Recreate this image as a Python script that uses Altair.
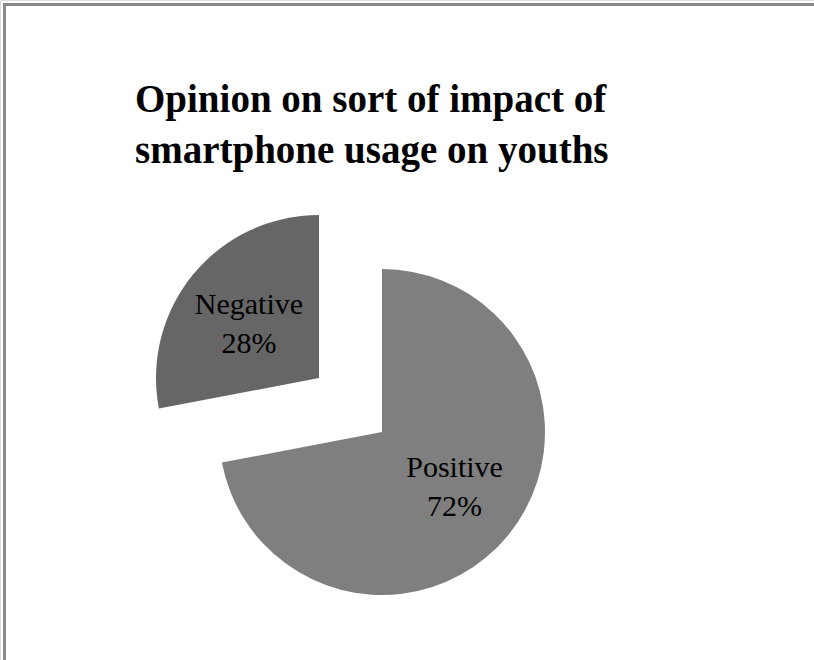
import altair as alt
import pandas as pd

# ---- data ----
categories = ["Positive", "Negative"]
percentages = [72, 28]
slice_colors = ["#7f7f7f", "#666666"]
title_lines = ["Opinion on sort of impact of", "smartphone usage on youths"]

df = pd.DataFrame({"category": categories, "pct": percentages})

# ---- layout constants ----
R = 163
LABEL_R = 89
centers = {"Positive": (382, 432), "Negative": (319, 378)}  # Negative slice is exploded
label_nudge = {"Positive": (4, -21), "Negative": (-1.5, -16)}
SERIF = "Liberation Serif, Times New Roman, serif"

base = (
    alt.Chart(df)
    .transform_stack(
        stack="pct",
        groupby=[],
        as_=["start", "end"],
        sort=[alt.SortField("category", order="descending")],
    )
    .transform_calculate(
        mid="(datum.start + datum.end) / 2",
        label="datum.category + '\\n' + datum.pct + '%'",
    )
)

theta_scale = alt.Scale(domain=[0, 100])
color_enc = alt.Color(
    "category:N", scale=alt.Scale(domain=categories, range=slice_colors), legend=None
)

layers = []
frame_df = pd.DataFrame({"f": [0]})
layers.append(
    alt.Chart(frame_df)
    .mark_rule(color="#8a8a8a", strokeWidth=3)
    .encode(x=alt.value(4.5), x2=alt.value(830), y=alt.value(4.5))
)
layers.append(
    alt.Chart(frame_df)
    .mark_rule(color="#8a8a8a", strokeWidth=3)
    .encode(x=alt.value(4.5), y=alt.value(3), y2=alt.value(680))
)

for cat in categories:
    cx, cy = centers[cat]
    ndx, ndy = label_nudge[cat]
    sub = base.transform_filter(alt.datum.category == cat)
    arc = sub.mark_arc(radius=R).encode(
        theta=alt.Theta("start:Q", scale=theta_scale),
        theta2="end:Q",
        color=color_enc,
        x=alt.value(cx),
        y=alt.value(cy),
    )
    txt = sub.mark_text(
        font=SERIF,
        fontSize=30,
        lineHeight=39,
        align="center",
        baseline="middle",
        lineBreak="\n",
        color="black",
        dx=ndx,
        dy=ndy,
    ).encode(
        theta=alt.Theta("mid:Q", scale=theta_scale),
        radius=alt.value(LABEL_R),
        text="label:N",
        x=alt.value(cx),
        y=alt.value(cy),
    )
    layers += [arc, txt]

chart = (
    alt.layer(*layers)
    .properties(
        width=814,
        height=660,
        padding=0,
        autosize=alt.AutoSizeParams(type="none"),
        title=alt.TitleParams(
            text=title_lines,
            anchor="start",
            frame="group",
            orient="top",
            offset=0,
            dx=135,
            dy=202,
            baseline="alphabetic",
            font=SERIF,
            fontSize=39,
            fontWeight="bold",
            lineHeight=51,
            color="black",
        ),
    )
    .configure_view(stroke=None)
    .configure(background="white")
)

chart.save("out.html", embed_options={"renderer": "svg", "actions": False})
